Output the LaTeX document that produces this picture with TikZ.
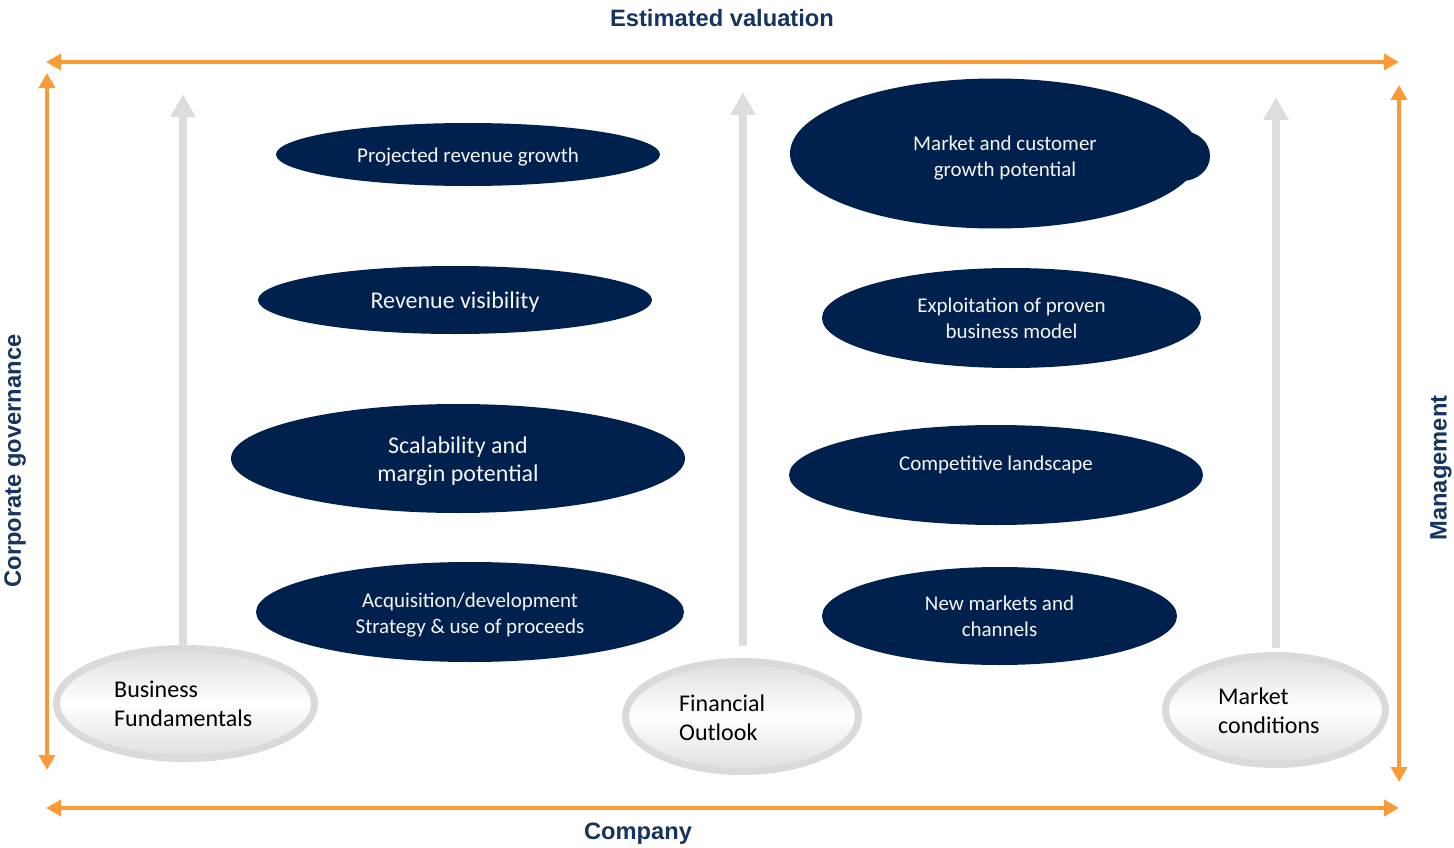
\documentclass[tikz,border=0pt]{standalone}
\usepackage{fontspec}
\setmainfont{Carlito}
\newfontfamily\headfont{Liberation Sans}
\usetikzlibrary{arrows.meta,shapes.geometric}
\definecolor{navy}{RGB}{0,33,77}
\definecolor{titleblue}{RGB}{23,52,94}
\definecolor{accent}{RGB}{250,155,55}
\definecolor{lightgrey}{RGB}{221,221,221}
\definecolor{rimgrey}{RGB}{218,218,218}
\definecolor{shadegrey}{RGB}{222,222,222}
\tikzset{
  darkell/.style={ellipse, fill=navy, inner sep=0pt, outer sep=0pt},
  darktxt/.style={text=white!96!navy, align=center, inner sep=0pt, yshift=-3pt,
    font=\fontsize{21pt}{26pt}\selectfont},
  bigtxt/.style={darktxt, font=\fontsize{24pt}{28pt}\selectfont},
  greyell/.style={ellipse, draw=rimgrey, line width=7pt, inner sep=0pt,
    top color=shadegrey, bottom color=shadegrey, middle color=white},
  greytxt/.style={text=black, align=left, inner sep=0pt,
    font=\fontsize{24pt}{29pt}\selectfont},
  axislabel/.style={text=titleblue, inner sep=0pt,
    font=\headfont\bfseries\fontsize{23.7pt}{28pt}\selectfont},
  axisarrow/.style={draw=accent, line width=4pt,
    {Triangle[length=15pt,width=16pt]}-{Triangle[length=15pt,width=16pt]}},
  growarrow/.style={draw=lightgrey, line width=8pt,
    -{Triangle[length=23pt,width=24pt]}},
}
\begin{document}
\begin{tikzpicture}[x=1pt,y=-1pt]
\useasboundingbox (0,0) rectangle (1454,848);

% outer frame of double-headed arrows
\coordinate (tl) at (46,62);  \coordinate (tr) at (1399,62);
\coordinate (lt) at (47,73);  \coordinate (lb) at (47,770);
\coordinate (rt) at (1399,85); \coordinate (rb) at (1399,782);
\coordinate (bl) at (46,808); \coordinate (br) at (1399,808);
\draw[axisarrow] (tl) -- (tr);
\draw[axisarrow] (lt) -- (lb);
\draw[axisarrow] (rt) -- (rb);
\draw[axisarrow] (bl) -- (br);

\node[axislabel] (valuation) at (722,18) {Estimated valuation};
\node[axislabel] (company) at (638,834) {Company};
\node[axislabel, rotate=90] (governance) at (15,461) {Corporate governance};
\node[axislabel, rotate=90] (management) at (1441,468) {Management};

% driver ellipses at the base of each column
\node[greyell, minimum width=258pt, minimum height=110pt] (bf) at (185.5,703.5) {};
\node[greyell, minimum width=233pt, minimum height=110pt] (fo) at (742,716.5) {};
\node[greyell, minimum width=220pt, minimum height=109pt] (mc) at (1275.5,710) {};
\node[greytxt, anchor=west] (bftxt) at (114,704) {Business\\Fundamentals};
\node[greytxt, anchor=west] (fotxt) at (679,718) {Financial\\Outlook};
\node[greytxt, anchor=west] (mctxt) at (1218,711) {Market\\conditions};

% upward arrows
\coordinate (g1) at (183,94);
\coordinate (g2) at (743,92);
\coordinate (g3) at (1276,97);
\draw[growarrow] (183,646) -- (g1);
\draw[growarrow] (743,646) -- (g2);
\draw[growarrow] (1276,648) -- (g3);

% value factors, left column
\node[darkell, minimum width=384pt, minimum height=63pt] (prg) at (468,154.5) {};
\node[darktxt] (prgtxt) at (prg.center) {Projected revenue growth};
\node[darkell, minimum width=394pt, minimum height=68pt] (rv) at (455,300) {};
\node[bigtxt] (rvtxt) at (455,299) {Revenue visibility};
\node[darkell, minimum width=454pt, minimum height=109pt] (smp) at (458,458.5) {};
\node[bigtxt] (smptxt) at (smp.center) {Scalability and\\margin potential};
\node[darkell, minimum width=428pt, minimum height=100pt] (acq) at (470,612) {};
\node[darktxt] (acqtxt) at (acq.center) {Acquisition/development\\Strategy \& use of proceeds};

% value factors, right column
\node[darkell, minimum width=56pt, minimum height=50pt] (mcgbump) at (1182,156) {};
\node[darkell, minimum width=410pt, minimum height=150pt] (mcg) at (995,153.5) {};
\node[darktxt] (mcgtxt) at (1005,155) {Market and customer\\growth potential};
\node[darkell, minimum width=379pt, minimum height=100pt] (epb) at (1011.5,318) {};
\node[darktxt] (epbtxt) at (1011.5,315) {Exploitation of proven\\business model};
\node[darkell, minimum width=414pt, minimum height=100pt] (cl) at (996,475) {};
\node[darktxt] (cltxt) at (996,462) {Competitive landscape};
\node[darkell, minimum width=355pt, minimum height=98pt] (nmc) at (999.5,616) {};
\node[darktxt] (nmctxt) at (999.5,613) {New markets and\\channels};
\end{tikzpicture}
\end{document}
